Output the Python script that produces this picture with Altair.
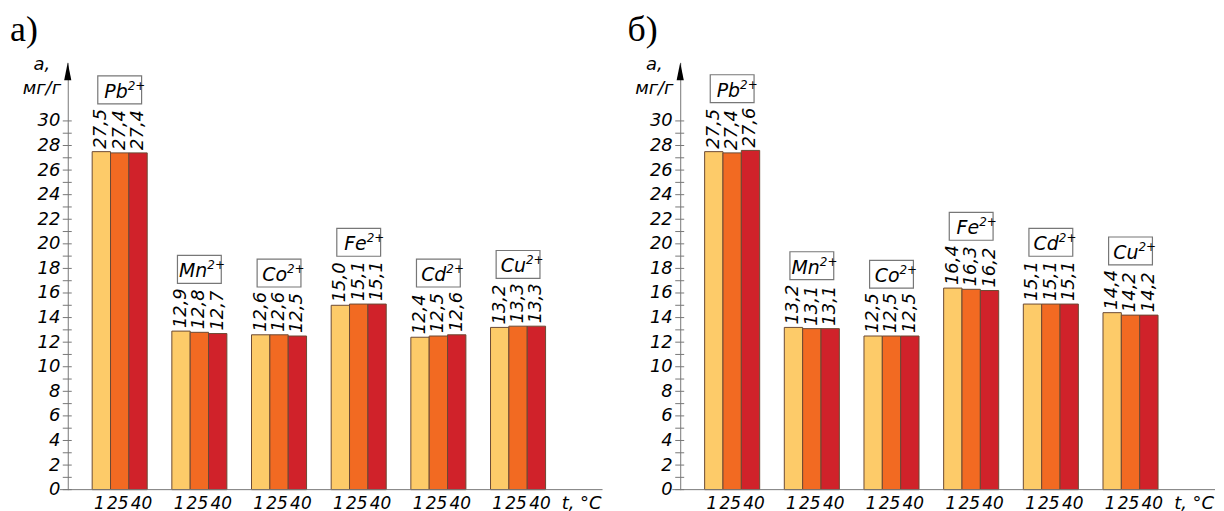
import altair as alt
import pandas as pd

# ---------------- data ----------------
ions = ["Pb", "Mn", "Co", "Fe", "Cd", "Cu"]
charge = "2+"
temps = ["1", "25", "40"]

# panel а)
pb_a = [27.5, 27.4, 27.4]
mn_a = [12.9, 12.8, 12.7]
co_a = [12.6, 12.6, 12.5]
fe_a = [15.0, 15.1, 15.1]
cd_a = [12.4, 12.5, 12.6]
cu_a = [13.2, 13.3, 13.3]

# panel б)
pb_b = [27.5, 27.4, 27.6]
mn_b = [13.2, 13.1, 13.1]
co_b = [12.5, 12.5, 12.5]
fe_b = [16.4, 16.3, 16.2]
cd_b = [15.1, 15.1, 15.1]
cu_b = [14.4, 14.2, 14.2]

y_ticks = list(range(0, 31))
y_labels = list(range(0, 31, 2))
colors = ["#FDCB69", "#F26A22", "#D0222A"]

# ---------------- styling ----------------
W, H = 537, 429
YMAX = 34.76
FONT = "DejaVu Sans"
AXIS_GRAY = "#777777"
TEMP_DX = [-2, -2, 3.5]


def frame(groups):
    rows = []
    for ion, vals in zip(ions, groups):
        for t, v in zip(temps, vals):
            rows.append({"ion": ion, "temp": t, "value": v,
                         "label": f"{v:.1f}".replace(".", ",")})
    return pd.DataFrame(rows)


def panel(groups, letter, letter_x):
    df = frame(groups)
    ion_df = df.groupby("ion", as_index=False)["value"].max()
    tick_df = pd.DataFrame({"value": y_ticks})
    top_df = pd.DataFrame({"value": [YMAX]})

    x = alt.X("ion:N", sort=ions, axis=None,
              scale=alt.Scale(domain=ions, paddingInner=0.309,
                              paddingOuter=0.5107, align=0.30))
    xo = alt.XOffset("temp:N", sort=temps,
                     scale=alt.Scale(domain=temps, paddingInner=0, paddingOuter=0))
    y = alt.Y("value:Q",
              scale=alt.Scale(domain=[0, YMAX], nice=False, zero=True),
              axis=alt.Axis(values=y_labels, title=None, grid=False, ticks=False,
                            labelPadding=8, domainColor=AXIS_GRAY, domainWidth=1,
                            labelFont=FONT, labelFontStyle="italic",
                            labelFontSize=18, labelColor="black"))

    base = alt.Chart(df)
    bars = base.mark_bar(stroke="#6b4a33", strokeWidth=1).encode(
        x=x, xOffset=xo, y=y,
        color=alt.Color("temp:N", scale=alt.Scale(domain=temps, range=colors),
                        legend=None))
    vals = base.mark_text(angle=270, align="left", baseline="middle", dx=3,
                          font=FONT, fontStyle="italic", fontSize=18,
                          color="black").encode(
        x=x, xOffset=xo, y=y, text="label:N")
    temp_layers = []
    for t, ddx in zip(temps, TEMP_DX):
        temp_layers.append(
            base.transform_filter(alt.datum.temp == t).mark_text(
                baseline="alphabetic", font=FONT, fontStyle="italic",
                fontSize=17, color="black", dx=ddx).encode(
                x=x, xOffset=xo, y=alt.value(H + 19), text="temp:N"))

    ib = alt.Chart(ion_df)
    boxes = ib.mark_point(shape="M-1,-0.636L1,-0.636L1,0.636L-1,0.636Z",
                          size=1936, filled=False, fill="white",
                          stroke=AXIS_GRAY, strokeWidth=1.2, opacity=1).encode(
        x=x, y=y, yOffset=alt.value(-62))
    ion_txt = ib.mark_text(align="right", baseline="alphabetic", dx=8, dy=-54,
                           font=FONT, fontStyle="italic", fontSize=19,
                           color="black").encode(x=x, y=y, text="ion:N")
    sup_txt = ib.mark_text(align="left", baseline="alphabetic", dx=8, dy=-62,
                           font=FONT, fontStyle="italic", fontSize=12,
                           color="black", text=charge).encode(x=x, y=y)

    ticks = alt.Chart(tick_df).mark_rule(color=AXIS_GRAY, strokeWidth=1).encode(
        x=alt.value(-5), x2=alt.value(4), y=y)
    arrow = alt.Chart(top_df).mark_point(shape="M0,0L-0.2,1L0.2,1Z", size=1296,
                                         filled=True, color="black",
                                         opacity=1).encode(x=alt.value(0), y=y)
    one = alt.Chart(top_df)
    baseline = one.mark_rule(color=AXIS_GRAY, strokeWidth=1).encode(
        x=alt.value(-8), x2=alt.value(W), y=alt.value(H))
    t_lbl = one.mark_text(text="t, °C", align="right", baseline="alphabetic",
                          font=FONT, fontStyle="italic", fontSize=18,
                          color="black").encode(x=alt.value(536), y=alt.value(H + 19))
    a_lbl = one.mark_text(text="а,", align="center", baseline="alphabetic",
                          font=FONT, fontStyle="italic", fontSize=18,
                          color="black").encode(x=alt.value(-26), y=alt.value(7.5))
    u_lbl = one.mark_text(text="мг/г", align="center", baseline="alphabetic",
                          font=FONT, fontStyle="italic", fontSize=18,
                          color="black").encode(x=alt.value(-26), y=alt.value(32))
    p_lbl = one.mark_text(text=letter, align="left", baseline="top",
                          font="Liberation Serif", fontSize=36,
                          color="black").encode(x=alt.value(letter_x), y=alt.value(-50))

    return alt.layer(ticks, bars, vals, *temp_layers, boxes, ion_txt, sup_txt,
                     arrow, baseline, t_lbl, a_lbl, u_lbl, p_lbl).properties(
        width=W, height=H)


pa = panel([pb_a, mn_a, co_a, fe_a, cd_a, cu_a], "а)", -58)
pb = panel([pb_b, mn_b, co_b, fe_b, cd_b, cu_b], "б)", -53)

chart = alt.hconcat(pa, pb, spacing=78, bounds="flush").properties(
    padding={"left": 2, "top": 2.6, "right": 0, "bottom": 0}
).configure_view(strokeWidth=0)

chart.save("out.html", embed_options={"renderer": "svg", "actions": False})
